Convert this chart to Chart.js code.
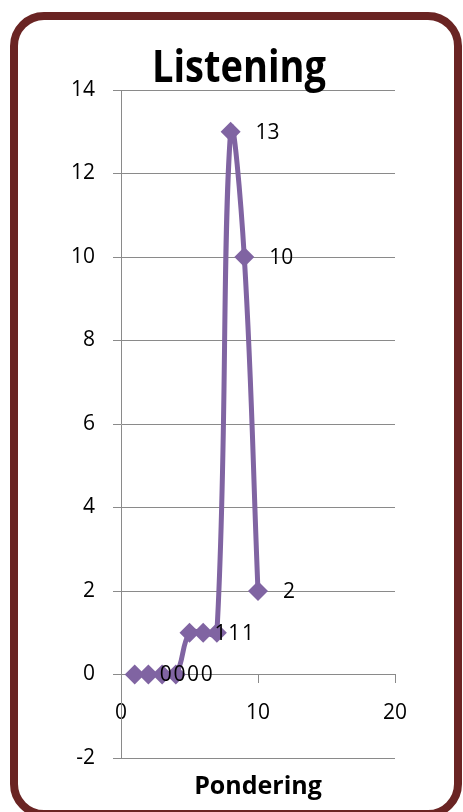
<!DOCTYPE html>
<html>
<head>
<meta charset="utf-8">
<script src="https://cdn.jsdelivr.net/npm/chart.js@4.4.1/dist/chart.umd.min.js"></script>
<style>
  html, body { margin: 0; padding: 0; background: #ffffff; overflow: hidden; }
  canvas { display: block; }
</style>
</head>
<body>
<canvas id="chart" width="463" height="812"></canvas>
<script>
// Series: responses per pondering score
const xValues = [1, 2, 3, 4, 5, 6, 7, 8, 9, 10];
const yValues = [0, 0, 0, 0, 1, 1, 1, 13, 10, 2];

// Axis tick values
const xTicks = [0, 10, 20];
const yTicks = [-2, 0, 2, 4, 6, 8, 10, 12, 14];

// Text
const chartTitle = 'Listening';
const xAxisTitle = 'Pondering';

const points = xValues.map((x, i) => ({ x: x, y: yValues[i] }));

const LINE_COLOR = '#8064A2';
const GRID_COLOR = '#8a8a8a';
const FONT = '"Open Sans", "Liberation Sans", sans-serif';

// Rounded frame around the whole chart
const framePlugin = {
  id: 'frame',
  beforeDraw(chart) {
    const ctx = chart.ctx;
    ctx.save();
    ctx.fillStyle = '#ffffff';
    ctx.fillRect(0, 0, chart.width, chart.height);
    ctx.strokeStyle = '#6a2423';
    ctx.lineWidth = 8;
    ctx.beginPath();
    ctx.roundRect(14, 16, 444, 798, 30);
    ctx.stroke();
    ctx.restore();
  }
};

// Bold titles, narrowed to a set width
function drawFitted(ctx, text, cx, baseline, size, width) {
  ctx.save();
  ctx.font = 'bold ' + size + 'px ' + FONT;
  ctx.fillStyle = '#000000';
  ctx.textAlign = 'center';
  ctx.textBaseline = 'alphabetic';
  const w = ctx.measureText(text).width;
  ctx.translate(cx, baseline);
  ctx.scale(Math.min(1, width / w), 1);
  ctx.fillText(text, 0, 0);
  ctx.restore();
}

const titlePlugin = {
  id: 'titles',
  afterDraw(chart) {
    const ctx = chart.ctx;
    drawFitted(ctx, chartTitle, 239, 82, 45, 174);
    drawFitted(ctx, xAxisTitle, 258, 794, 25, 134);
  }
};

// Value labels to the right of each marker
const valueLabelPlugin = {
  id: 'valueLabels',
  afterDatasetsDraw(chart) {
    const ctx = chart.ctx;
    const meta = chart.getDatasetMeta(0);
    ctx.save();
    ctx.font = '21px ' + FONT;
    ctx.fillStyle = '#000000';
    ctx.textAlign = 'left';
    ctx.textBaseline = 'middle';
    meta.data.forEach((el, i) => {
      ctx.fillText(String(yValues[i]), el.x + 25, el.y + 1);
    });
    ctx.restore();
  }
};

new Chart(document.getElementById('chart'), {
  type: 'scatter',
  data: {
    datasets: [{
      data: points,
      showLine: true,
      borderColor: LINE_COLOR,
      backgroundColor: LINE_COLOR,
      borderWidth: 5,
      tension: 0.4,
      pointStyle: 'rectRot',
      pointRadius: 10,
      pointHoverRadius: 10,
      pointBorderWidth: 0,
      clip: false
    }]
  },
  options: {
    responsive: false,
    devicePixelRatio: 1,
    animation: false,
    events: [],
    layout: { padding: { top: 90, right: 68, bottom: 54, left: 0 } },
    plugins: {
      legend: { display: false },
      title: { display: false },
      tooltip: { enabled: false }
    },
    scales: {
      x: {
        type: 'linear',
        position: { y: 0 },
        min: xTicks[0],
        max: xTicks[xTicks.length - 1],
        afterBuildTicks: s => { s.ticks = xTicks.map(v => ({ value: v })); },
        grid: { drawOnChartArea: false, drawTicks: true, tickLength: 8, color: GRID_COLOR, lineWidth: 1 },
        border: { display: true, color: GRID_COLOR, width: 1 },
        ticks: { font: { family: FONT, size: 21 }, color: '#000000', padding: 18, maxRotation: 0 }
      },
      y: {
        type: 'linear',
        position: 'left',
        min: yTicks[0],
        max: yTicks[yTicks.length - 1],
        afterBuildTicks: s => { s.ticks = yTicks.map(v => ({ value: v })); },
        afterFit: s => { s.width = 121; },
        grid: { color: GRID_COLOR, lineWidth: 1, drawTicks: true, tickLength: 8 },
        border: { display: true, color: GRID_COLOR, width: 1 },
        ticks: { font: { family: FONT, size: 21 }, color: '#000000', padding: 18 }
      }
    }
  },
  plugins: [framePlugin, valueLabelPlugin, titlePlugin]
});
</script>
</body>
</html>
